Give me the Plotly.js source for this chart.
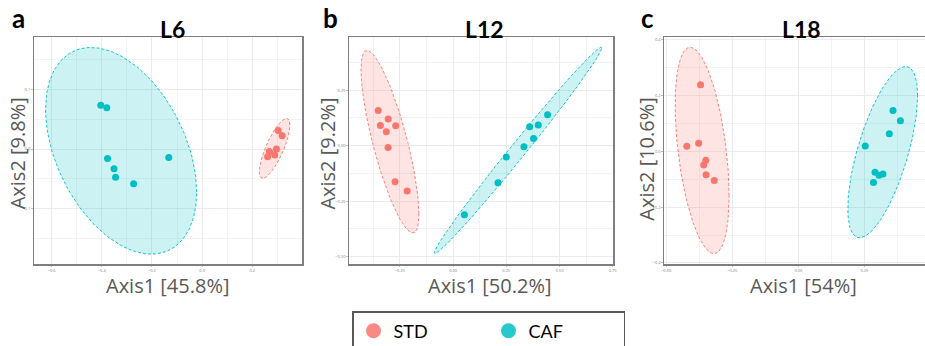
<!DOCTYPE html>
<html><head><meta charset="utf-8">
<script src="https://cdn.plot.ly/plotly-3.0.1.min.js"></script>
<style>html,body{margin:0;padding:0;background:#fff}#chart{width:925px;height:346px}</style>
</head><body><div id="chart"></div>
<script>
// ---- data ----
const groups = ['STD', 'CAF'];
const panelTitles = ['L6', 'L12', 'L18'];
const panelLetters = ['a', 'b', 'c'];
const axis1Labels = ['Axis1 [45.8%]', 'Axis1 [50.2%]', 'Axis1 [54%]'];
const axis2Labels = ['Axis2 [9.8%]', 'Axis2 [9.2%]', 'Axis2 [10.6%]'];

// L6
const L6_STD_x = [0.303, 0.319, 0.296, 0.268, 0.261, 0.289];
const L6_STD_y = [0.031, 0.022, 0.000, -0.004, -0.013, -0.010];
const L6_CAF_x = [-0.404, -0.380, -0.377, -0.351, -0.345, -0.273, -0.133];
const L6_CAF_y = [0.073, 0.069, -0.016, -0.033, -0.047, -0.058, -0.014];
// L12
const L12_STD_x = [-0.352, -0.342, -0.305, -0.314, -0.270, -0.306, -0.273, -0.216];
const L12_STD_y = [0.159, 0.091, 0.120, 0.063, 0.090, -0.008, -0.162, -0.204];
const L12_CAF_x = [0.053, 0.211, 0.250, 0.333, 0.378, 0.360, 0.400, 0.444];
const L12_CAF_y = [-0.311, -0.167, -0.051, -0.005, 0.033, 0.086, 0.093, 0.140];
// L18
const L18_STD_x = [-0.370, -0.422, -0.377, -0.350, -0.358, -0.349, -0.318];
const L18_STD_y = [0.239, 0.018, 0.029, -0.032, -0.049, -0.084, -0.105];
const L18_CAF_x = [0.358, 0.386, 0.344, 0.253, 0.290, 0.305, 0.320, 0.284];
const L18_CAF_y = [0.146, 0.110, 0.063, 0.019, -0.075, -0.086, -0.081, -0.112];

// 95% ellipses: centre x, centre y, half x-extent, half y-extent, correlation
const ell_L6_STD  = [0.289, 0.001, 0.061, 0.050, 0.78];
const ell_L6_CAF  = [-0.323, -0.003, 0.301, 0.1725, -0.40];
const ell_L12_STD = [-0.297, 0.018, 0.136, 0.411, -0.79];
const ell_L12_CAF = [0.305, -0.021, 0.394, 0.465, 0.993];
const ell_L18_STD = [-0.364, 0.003, 0.102, 0.370, -0.44];
const ell_L18_CAF = [0.319, -0.003, 0.132, 0.307, 0.66];

// ---- build ----
const colors = {STD: '#F8766D', CAF: '#00BFC4'};
const fills = {STD: 'rgba(248,118,109,0.2)', CAF: 'rgba(0,191,196,0.2)'};
const panels = [
  {STD: [L6_STD_x, L6_STD_y, ell_L6_STD], CAF: [L6_CAF_x, L6_CAF_y, ell_L6_CAF]},
  {STD: [L12_STD_x, L12_STD_y, ell_L12_STD], CAF: [L12_CAF_x, L12_CAF_y, ell_L12_CAF]},
  {STD: [L18_STD_x, L18_STD_y, ell_L18_STD], CAF: [L18_CAF_x, L18_CAF_y, ell_L18_CAF]}
];

function ellipsePath(p) {
  const [cx, cy, W, H, r] = p;
  const s = Math.sqrt(1 - r * r);
  const xs = [], ys = [];
  for (let i = 0; i <= 160; i++) {
    const t = 2 * Math.PI * i / 160;
    xs.push(cx + W * Math.cos(t));
    ys.push(cy + H * (r * Math.cos(t) + s * Math.sin(t)));
  }
  return [xs, ys];
}

const traces = [];
panels.forEach((pn, k) => {
  const xa = k === 0 ? 'x' : 'x' + (k + 1);
  const ya = k === 0 ? 'y' : 'y' + (k + 1);
  groups.forEach(g => {
    const [ex, ey] = ellipsePath(pn[g][2]);
    traces.push({x: ex, y: ey, xaxis: xa, yaxis: ya, type: 'scatter', mode: 'lines',
      fill: 'toself', fillcolor: fills[g], line: {color: colors[g], width: 0.9, dash: '3px,2px'},
      showlegend: false, hoverinfo: 'skip'});
  });
  groups.forEach(g => {
    traces.push({x: pn[g][0], y: pn[g][1], xaxis: xa, yaxis: ya, type: 'scatter', mode: 'markers',
      marker: {color: colors[g], size: 7}, name: g, showlegend: false});
  });
});
// legend entries
groups.forEach(g => {
  traces.push({x: [null], y: [null], type: 'scatter', mode: 'markers', name: g,
    marker: {color: colors[g], size: 15, opacity: 0.85}, showlegend: true});
});

const W = 925, Hh = 346;
const xdom = [[34 / W, 302 / W], [349.3 / W, 613.3 / W], [664.3 / W, 1]];
const ydom = [(346 - 264) / Hh, (346 - 37) / Hh];
const xr = [[-0.670, 0.398], [-0.488, 0.753], [-0.507, 0.479]];
const yr = [[-0.192, 0.187], [-0.533, 0.49], [-0.404, 0.41]];
const xdt = [0.2, 0.25, 0.25], ydt = [0.1, 0.25, 0.2];
const xfmt = ['.1f', '.2f', '.2f'], yfmt = ['.1f', '.2f', '.1f'];

const layout = {
  width: W, height: Hh, margin: {l: 0, r: 0, t: 0, b: 0, autoexpand: false},
  paper_bgcolor: '#fff', plot_bgcolor: '#fff',
  showlegend: true,
  legend: {orientation: 'h', x: 352 / W, xanchor: 'left', y: (346 - 311) / Hh, yanchor: 'top',
    bordercolor: '#595959', borderwidth: 1.5, bgcolor: '#fff',
    font: {family: 'Lato', size: 18, color: '#000'}, itemsizing: 'trace',
    entrywidth: 90, entrywidthmode: 'pixels'},
  annotations: []
};
const axisFont = {family: 'Open Sans', size: 20, color: '#595959'};
const xTitlePos = [168, 490, 803.7];
const yTitlePos = [[17, 153.3], [327.3, 153.3], [645.7, 159]];
for (let k = 0; k < 3; k++) {
  const sx = k === 0 ? '' : String(k + 1);
  const common = {showgrid: true, gridcolor: '#EBEBEB', gridwidth: 1, zeroline: false,
    ticks: 'outside', ticklen: 1.5, tickwidth: 0.6, tickcolor: '#999',
    tickfont: {family: 'Open Sans', size: 4, color: '#808080'},
    showline: true, linecolor: '#7F7F7F', linewidth: 1.5, automargin: false};
  layout['xaxis' + sx] = Object.assign({}, common, {
    domain: xdom[k], range: xr[k], anchor: 'y' + sx, dtick: xdt[k], tick0: 0, tickformat: xfmt[k],
    mirror: true, minor: {dtick: xdt[k] / 2, tick0: 0, showgrid: true, gridcolor: '#F3F3F3', ticks: ''}
  });
  layout['yaxis' + sx] = Object.assign({}, common, {
    domain: ydom, range: yr[k], anchor: 'x' + sx, dtick: ydt[k], tick0: 0, tickformat: yfmt[k],
    mirror: k === 2 ? false : true,
    minor: {dtick: ydt[k] / 2, tick0: 0, showgrid: true, gridcolor: '#F3F3F3', ticks: ''}
  });
  // axis titles
  layout.annotations.push({text: axis1Labels[k], xref: 'paper', yref: 'paper',
    x: xTitlePos[k] / W, y: (346 - 285.5) / Hh, xanchor: 'center', yanchor: 'middle',
    showarrow: false, font: axisFont});
  layout.annotations.push({text: axis2Labels[k], xref: 'paper', yref: 'paper', textangle: -90,
    x: yTitlePos[k][0] / W, y: (346 - yTitlePos[k][1]) / Hh, xanchor: 'center', yanchor: 'middle',
    showarrow: false, font: axisFont});
  // panel titles and letters
  layout.annotations.push({text: '<b>' + panelTitles[k] + '</b>', xref: 'paper', yref: 'paper',
    x: [172.8, 484.7, 801.7][k] / W, y: (346 - 28.5) / Hh, xanchor: 'center', yanchor: 'middle',
    showarrow: false, font: {family: 'Lato', size: 23, color: '#000'}});
  layout.annotations.push({text: '<b>' + panelLetters[k] + '</b>', xref: 'paper', yref: 'paper',
    x: [18.5, 330, 647][k] / W, y: 1, xanchor: 'center', yanchor: 'top',
    showarrow: false, font: {family: 'Lato', size: 26, color: '#000'}});
}
Plotly.newPlot('chart', traces, layout, {displayModeBar: false, staticPlot: true});
</script>
</body></html>
